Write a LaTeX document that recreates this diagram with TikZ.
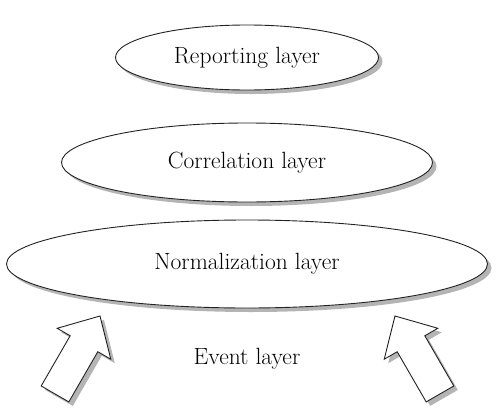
\documentclass[tikz,border=0pt]{standalone}
\usepackage{tikz}
\usetikzlibrary{positioning,shapes.geometric,shapes.arrows,shadows}
\definecolor{ink}{RGB}{35,35,35}
\definecolor{shadegray}{RGB}{180,180,180}
\tikzset{
  layer/.style={ellipse,draw=ink,line width=0.9pt,fill=white,inner sep=0pt,outer sep=0pt,font=\fontsize{23.5}{28}\selectfont,drop shadow={shadow xshift=4pt,shadow yshift=-4pt,fill=shadegray,opacity=1}},
  feed/.style={single arrow,draw=ink,line width=0.9pt,fill=white,minimum height=90pt,single arrow head extend=15pt,single arrow tip angle=88,inner xsep=0pt,inner ysep=15.5pt,outer sep=0pt,anchor=tip,drop shadow={shadow xshift=4pt,shadow yshift=-4pt,fill=shadegray,opacity=1}},
  caption/.style={inner sep=0pt,font=\fontsize{23.5}{28}\selectfont}
}

\begin{document}
\begin{tikzpicture}[x=1pt,y=-1pt]
  \useasboundingbox (0,0) rectangle (499,410);
  \node[layer,minimum width=481pt,minimum height=88pt] (norm) at (247,264) {Normalization layer};
  \node[layer,above=18pt of norm,minimum width=371pt,minimum height=79pt] (corr) {Correlation layer};
  \node[layer,above=33pt of corr,minimum width=263pt,minimum height=65pt] (rep) {Reporting layer};
  \node[caption,below=40pt of norm] (event) {Event layer};
  \node[feed,rotate=60] (inl) at (100,316) {};
  \node[feed,rotate=120] (inr) at (395,316) {};
\end{tikzpicture}
\end{document}
